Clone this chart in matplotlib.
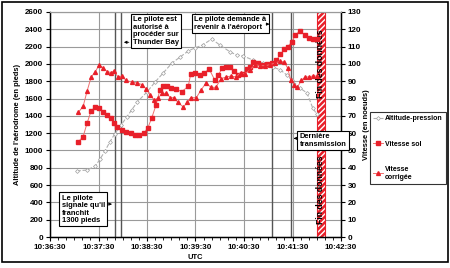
import matplotlib
matplotlib.use("Agg")
import matplotlib.pyplot as plt
from matplotlib.patches import Rectangle
from matplotlib.ticker import MultipleLocator, FuncFormatter

plt.rcParams['font.family'] = ['Liberation Sans', 'DejaVu Sans']
plt.rcParams['font.weight'] = 'bold'

# temps en secondes apres 10:36:30
t_alt = [33, 46, 56, 62, 68, 74, 80, 88, 95, 101, 108, 120, 130, 140, 151, 161, 171, 179,
         189, 200, 210, 223, 231, 239, 251, 263, 276, 285, 293, 299, 309, 318, 325, 330]
altitude = [763, 774, 820, 901, 994, 1098, 1190, 1294, 1387, 1468, 1560, 1676, 1791, 1895,
            2011, 2080, 2149, 2184, 2219, 2288, 2219, 2138, 2103, 2092, 2045, 2011, 1964,
            1930, 1872, 1814, 1722, 1664, 1491, 1421]

t_sol = [35, 41, 46, 51, 56, 61, 66, 71, 76, 79, 83, 89, 94, 100, 105, 110, 116, 121, 126,
         131, 136, 140, 145, 150, 156, 163, 171, 174, 179, 186, 191, 197, 204, 208, 213, 218,
         223, 228, 233, 238, 244, 247, 251, 257, 264, 269, 275, 280, 285, 290, 294, 299, 303,
         309, 316, 320, 325, 330]
v_sol = [55, 58, 66, 73, 75, 74.5, 72, 70.5, 69, 66, 63.5, 62, 60.5, 60, 59, 59, 60, 63, 69,
         76, 85, 87, 87, 86, 85.5, 84, 87, 94, 95, 93.5, 95, 97, 90.5, 93.5, 97.5, 98, 98, 96,
         93.5, 94, 97, 98, 101, 100.5, 99.5, 100, 100.5, 102, 105.5, 108.5, 110, 112.5, 116.5,
         119, 116.5, 115, 114.5, 114.5]

t_corr = [35, 41, 46, 51, 56, 61, 66, 71, 76, 79, 84, 89, 94, 101, 108, 114, 119, 124, 129,
          134, 139, 144, 149, 153, 158, 165, 170, 174, 181, 187, 193, 199, 205, 212, 218, 224,
          230, 236, 241, 247, 254, 260, 266, 272, 278, 285, 290, 294, 298, 302, 306, 311, 316,
          320, 325, 330]
v_corr = [72, 75.5, 84.5, 92.5, 95.5, 99.5, 97.5, 95.5, 95, 96, 92.5, 93, 90.5, 89.5, 89,
          88, 85.5, 82, 79, 80.5, 83, 83, 80.5, 80.5, 78, 75, 78, 80.5, 80.5, 85, 89, 86.5,
          86.5, 91.5, 92.5, 93, 92.5, 95, 94, 96.5, 99.5, 99, 99, 99.5, 100.5, 101.5, 101,
          97.5, 90.5, 88, 86.5, 90.5, 92.5, 92.5, 93, 93]

evenements = [80, 88, 275, 298]
fin_donnees = (330, 340)

x_ticks = [0, 60, 120, 180, 240, 300, 360]


def label_temps(s, pos):
    total = 10 * 3600 + 36 * 60 + 30 + int(s)
    return "%d:%02d:%02d" % (total // 3600, (total % 3600) // 60, total % 60)


fig = plt.figure(figsize=(4.5, 2.68), dpi=100)
ax = fig.add_axes([50 / 450, 1 - 237 / 268, 291 / 450, 225 / 268])
ax2 = ax.twinx()

fs = 5.8   # graduations
fb = 5.4   # boites / titres
ax.set_xlim(0, 360)
ax.set_ylim(0, 2600)
ax2.set_ylim(0, 130)
ax.set_xticks(x_ticks)
ax.xaxis.set_major_formatter(FuncFormatter(label_temps))
ax.xaxis.set_minor_locator(MultipleLocator(10))
ax.yaxis.set_major_locator(MultipleLocator(200))
ax2.yaxis.set_major_locator(MultipleLocator(10))
ax.tick_params(labelsize=fs, length=3, width=0.8, pad=2)
ax.tick_params(axis='x', which='minor', length=2, width=0.6)
ax2.tick_params(labelsize=fs, length=3, width=0.8, pad=2)
ax.grid(True, color='#9a9a9a', lw=0.8)
ax.set_axisbelow(True)
for a in (ax, ax2):
    a.spines['top'].set_color('#9a9a9a')
    for s in ('left', 'right', 'bottom'):
        a.spines[s].set_linewidth(0.9)

ax.set_xlabel("UTC", fontsize=fb, fontweight='bold', labelpad=2)
ax.set_ylabel("Altitude de l'aérodrome (en pieds)", fontsize=fb, fontweight='bold', labelpad=3)
ax2.set_ylabel("Vitesse (en noeuds)", fontsize=fb, fontweight='bold', labelpad=1)

# lignes des evenements
for t in evenements:
    ax.axvline(t, color='#555555', lw=1.0, zorder=1.5)

# bande fin des donnees
ax.axvspan(fin_donnees[0], fin_donnees[1], facecolor='#e8202a', edgecolor='white',
           hatch='//////', lw=0, zorder=2)
for t in fin_donnees:
    ax.axvline(t, color='#e8202a', lw=0.8, zorder=2.1)
xm = (fin_donnees[0] + fin_donnees[1]) / 2
for yf in (0.77, 0.21):
    ax.text(xm, yf, "Fin des données", rotation=90, ha='center', va='center',
            fontsize=6.2, fontweight='bold', transform=ax.get_xaxis_transform(), zorder=5)

l1, = ax.plot(t_alt, altitude, color='#b0b0b0', lw=0.8, ls='--', marker='D',
              markersize=2.0, mfc='white', mec='#a0a0a0', mew=0.5, zorder=3,
              label='Altitude-pression')
l2, = ax2.plot(t_sol, v_sol, color='#f07070', lw=0.7, marker='s', markersize=2.6,
               mfc='#e8202a', mec='#e8202a', zorder=3, label='Vitesse sol')
l3, = ax2.plot(t_corr, v_corr, color='#f07070', lw=0.7, marker='^', markersize=2.8,
               mfc='#e8202a', mec='#e8202a', zorder=3, label='Vitesse\ncorrigée')

boite = dict(boxstyle='square,pad=0.3', fc='white', ec='black', lw=0.8)
fl = dict(arrowstyle='-|>', color='black', lw=0.6, mutation_scale=4)

ax2.text(0.285, 0.982, "Le pilote est\nautorisé à\nprocéder sur\nThunder Bay", ha='left',
         va='top', fontsize=fb, fontweight='bold', linespacing=1.1,
         transform=ax.transAxes, bbox=boite, zorder=6)
ax2.annotate('', xy=(88, 112.5), xytext=(101, 112.5), arrowprops=fl, zorder=6)

ax2.text(0.496, 0.982, "Le pilote demande à\nrevenir à l'aéroport", ha='left', va='top',
         fontsize=fb, fontweight='bold', linespacing=1.1, transform=ax.transAxes,
         bbox=boite, zorder=6)
ax2.annotate('', xy=(275, 123), xytext=(264, 123), arrowprops=fl, zorder=6)

ax2.text(0.04, 0.188, "Le pilote\nsignale qu'il\nfranchit\n1300 pieds", ha='left', va='top',
         fontsize=fb, fontweight='bold', linespacing=1.1, transform=ax.transAxes,
         bbox=boite, zorder=6)
ax2.annotate('', xy=(80, 19), xytext=(71, 19), arrowprops=fl, zorder=6)

ax2.text(0.858, 0.462, "Dernière\ntransmission", ha='left', va='top', fontsize=fb,
         fontweight='bold', linespacing=1.1, transform=ax.transAxes, bbox=boite, zorder=6)
ax2.annotate('', xy=(298, 57), xytext=(307, 57), arrowprops=fl, zorder=6)

leg = fig.legend(handles=[l1, l2, l3], loc='upper left', bbox_to_anchor=(370 / 450, 1 - 112 / 268),
                 prop={'size': 5.0, 'weight': 'bold'}, frameon=True, fancybox=False,
                 edgecolor='black', handlelength=1.4, handletextpad=0.25, labelspacing=2.6,
                 borderpad=0.5, borderaxespad=0)
leg.get_frame().set_linewidth(0.8)

fig.patches.append(Rectangle((0.004, 0.022), 0.992, 0.971, transform=fig.transFigure,
                             fill=False, ec='black', lw=1.2))

fig.savefig("out.png", dpi=100)
